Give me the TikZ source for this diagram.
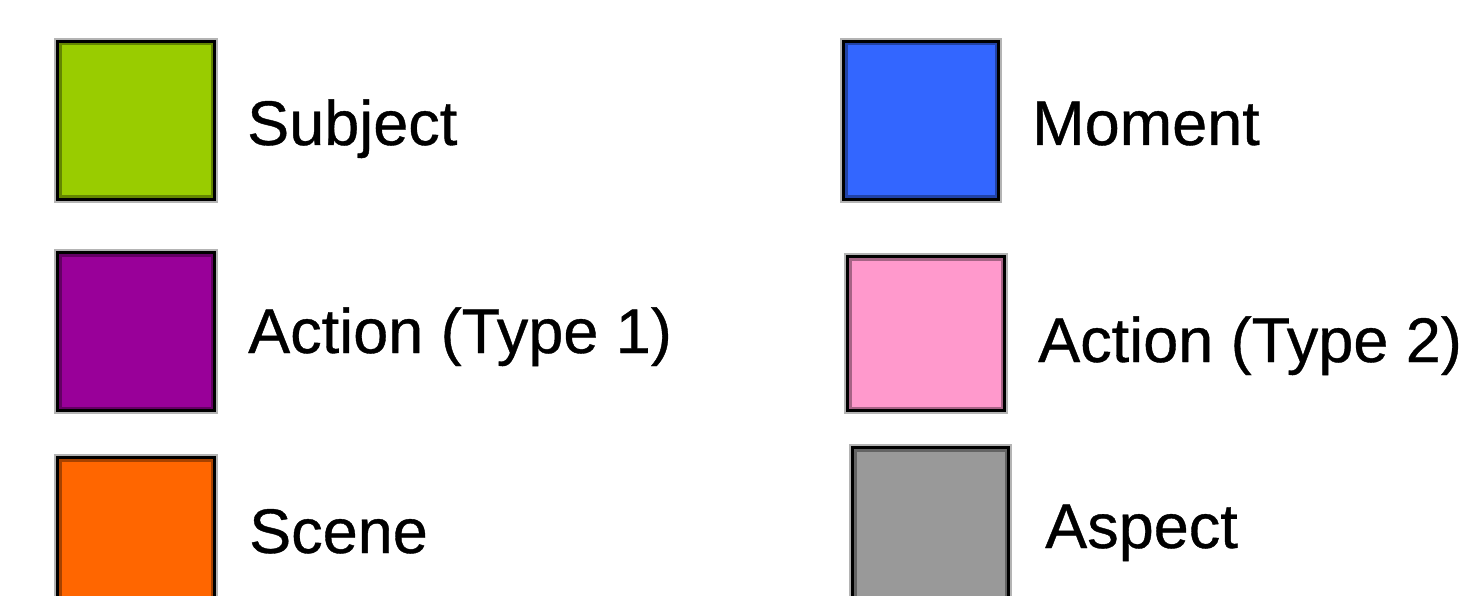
\documentclass[tikz,border=0pt]{standalone}
\usepackage{fontspec}
\setmainfont[FakeBold=0.6]{Liberation Sans}
\definecolor{cSubject}{HTML}{99CC00}
\definecolor{cAction1}{HTML}{990099}
\definecolor{cScene}{HTML}{FF6600}
\definecolor{cMoment}{HTML}{3366FF}
\definecolor{cAction2}{HTML}{FF99CC}
\definecolor{cAspect}{HTML}{999999}
\definecolor{halo}{HTML}{B4B4B4}
\tikzset{
  swatch/.style={rectangle, inner sep=0pt, fill=#1, draw=black, line width=3.6pt,
    preaction={draw=halo, line width=7.5pt},
    path picture={\draw[#1!65!black, line width=8pt]
      (path picture bounding box.south west) rectangle (path picture bounding box.north east);}},
  legendtext/.style={anchor=base west, inner sep=0pt, font=\fontsize{63}{70}\selectfont}
}
\begin{document}
\begin{tikzpicture}[x=1pt,y=-1pt]
\useasboundingbox (0,0) rectangle (1483,596);
\clip (0,0) rectangle (1483,596);
\node[swatch=cSubject, minimum width=157pt, minimum height=158pt] (bsubject) at (136,120.5) {};
\node[swatch=cAction1, minimum width=157pt, minimum height=158pt] (baction1) at (136,331.5) {};
\node[swatch=cScene, minimum width=157pt, minimum height=158pt] (bscene) at (136,536.5) {};
\node[swatch=cMoment, minimum width=155pt, minimum height=158pt] (bmoment) at (921,120.5) {};
\node[swatch=cAction2, minimum width=157pt, minimum height=154pt] (baction2) at (926,333.5) {};
\node[swatch=cAspect, minimum width=156pt, minimum height=158pt] (baspect) at (930.5,526.5) {};
\node[legendtext] (tsubject) at (247,145) {Subject};
\node[legendtext] (taction1) at (248,353) {Action (Type 1)};
\node[legendtext] (tscene) at (249,553) {Scene};
\node[legendtext] (tmoment) at (1032,145) {Moment};
\node[legendtext] (taction2) at (1038,362) {Action (Type 2)};
\node[legendtext] (taspect) at (1045,548) {Aspect};
\end{tikzpicture}
\end{document}
